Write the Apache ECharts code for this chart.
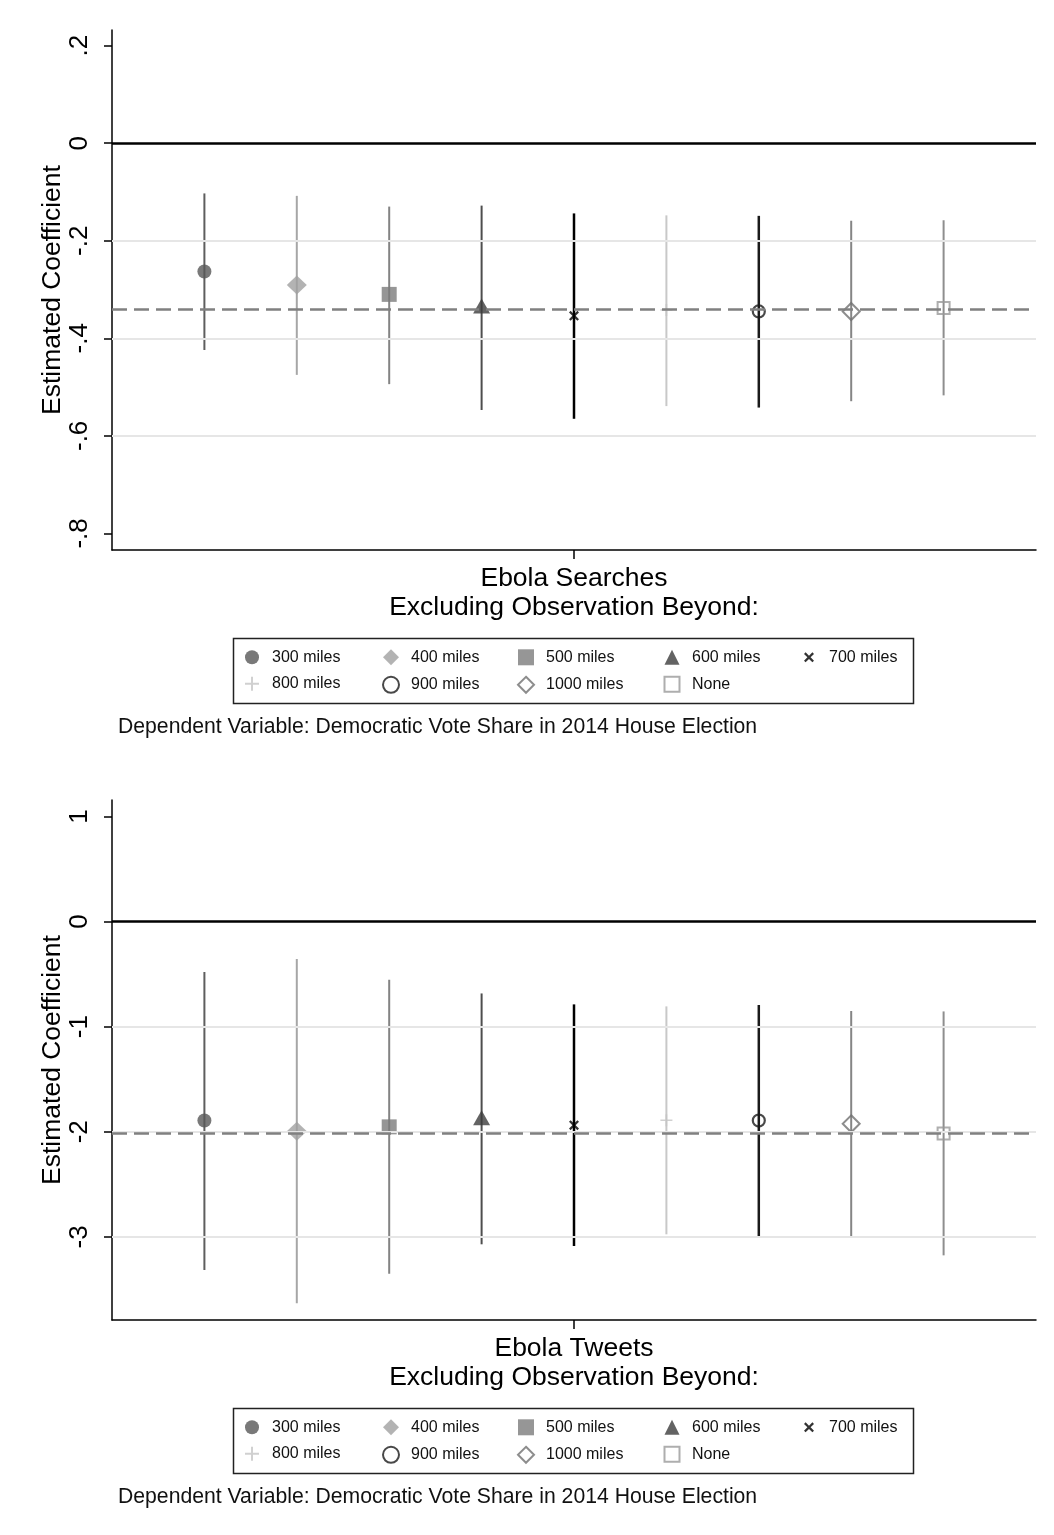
<!DOCTYPE html>
<html><head><meta charset="utf-8">
<script src="https://cdn.jsdelivr.net/npm/echarts@6/dist/echarts.min.js"></script>
<style>html,body{margin:0;padding:0;background:#fff}#c{width:1054px;height:1535px}</style>
</head><body><div id="c"></div>
<script>
// ---------- data ----------
const categories = ['300 miles','400 miles','500 miles','600 miles','700 miles','800 miles','900 miles','1000 miles','None'];
const searchesCoef = [-0.263, -0.291, -0.310, -0.334, -0.354, -0.342, -0.345, -0.345, -0.338];
const searchesLo   = [-0.424, -0.475, -0.494, -0.547, -0.565, -0.539, -0.542, -0.529, -0.517];
const searchesHi   = [-0.103, -0.108, -0.130, -0.128, -0.144, -0.148, -0.149, -0.159, -0.158];
const searchesRef  = -0.337;
const tweetsCoef = [-1.893, -1.994, -1.953, -1.866, -1.937, -1.890, -1.893, -1.924, -2.016];
const tweetsLo   = [-3.314, -3.630, -3.350, -3.070, -3.086, -2.975, -3.000, -3.000, -3.175];
const tweetsHi   = [-0.480, -0.357, -0.554, -0.684, -0.788, -0.807, -0.794, -0.851, -0.855];
const tweetsRef  = -2.010;
const searchesTicks = [0.2, 0, -0.2, -0.4, -0.6, -0.8];
const searchesGridVals = [-0.2, -0.4, -0.6];
const tweetsTicks = [1, 0, -1, -2, -3];
const tweetsGridVals = [-1, -2, -3];
const xTitleLine2 = 'Excluding Observation Beyond:';
const noteText = 'Dependent Variable: Democratic Vote Share in 2014 House Election';
const yTitle = 'Estimated Coefficient';

// ---------- styles ----------
const FONT = '"Liberation Sans", Arial, Helvetica, sans-serif';
const X_PATH = 'path://M0,1.6L1.6,0L5,3.4L8.4,0L10,1.6L6.6,5L10,8.4L8.4,10L5,6.6L1.6,10L0,8.4L3.4,5Z';
const PLUS_PATH = 'path://M4.3,0H5.7V4.3H10V5.7H5.7V10H4.3V5.7H0V4.3H4.3Z';
const mk = [
  {symbol:'circle',   size:14,      fill:'#575757', line:'#5e5e5e', lw:2},
  {symbol:'diamond',  size:[20,19], fill:'#a0a0a0', line:'#a6a6a6', lw:2},
  {symbol:'rect',     size:15,      fill:'#7c7c7c', line:'#838383', lw:2},
  {symbol:'triangle', size:[17,15], fill:'#3c3c3c', line:'#4e4e4e', lw:2},
  {symbol:X_PATH,     size:10,      fill:'#000000', line:'#000000', lw:2.5},
  {symbol:PLUS_PATH,  size:12,      fill:'#c4c4c4', line:'#c8c8c8', lw:2},
  {symbol:'circle',   size:12, hollow:true, stroke:'#1a1a1a', bw:2.2, line:'#1a1a1a', lw:2.5},
  {symbol:'diamond',  size:17, hollow:true, stroke:'#707070', bw:2,   line:'#858585', lw:2},
  {symbol:'rect',     size:12, hollow:true, stroke:'#9a9a9a', bw:2,   line:'#8e8e8e', lw:2}
];
const legendCols = [
  {items:[0,5], cx:252, ih:14},
  {items:[1,6], cx:390, ih:16},
  {items:[2,7], cx:525, ih:16},
  {items:[3,8], cx:671, ih:15},
  {items:[4],   cx:809, ih:10}
];
const panels = [
  {title:'Ebola Searches', coef:searchesCoef, lo:searchesLo, hi:searchesHi, ref:searchesRef,
   ticks:searchesTicks, gridVals:searchesGridVals, min:-0.834, max:0.232, off:0},
  {title:'Ebola Tweets', coef:tweetsCoef, lo:tweetsLo, hi:tweetsHi, ref:tweetsRef,
   ticks:tweetsTicks, gridVals:tweetsGridVals, min:-3.79, max:1.156, off:770}
];
function fmt(v){
  const r = Math.round(v*10)/10;
  return String(r).replace(/^(-?)0\./, '$1.');
}

const grid = [], xAxis = [], yAxis = [], series = [], legend = [], title = [], graphic = [];
const axisLine = {show:true, onZero:false, lineStyle:{color:'#000', width:1.5}};
panels.forEach((p, k) => {
  grid.push({left:112, right:18, top:30 + p.off, height:520, containLabel:false, outerBoundsMode:'none'});
  xAxis.push({
    gridIndex:k, type:'value', min:0, max:10,
    axisLine:axisLine,
    axisTick:{show:true, customValues:[5], length:9, lineStyle:{color:'#000', width:1.5}},
    axisLabel:{show:false}, splitLine:{show:false},
    name: p.title + '\n' + xTitleLine2, nameLocation:'middle', nameGap:14, nameMoveOverlap:false,
    nameTextStyle:{fontSize:26.5, lineHeight:29, color:'#000', fontFamily:FONT, verticalAlign:'top'}
  });
  yAxis.push({
    gridIndex:k, type:'value', min:p.min, max:p.max,
    axisLine:axisLine,
    axisTick:{show:true, customValues:p.ticks, length:8, lineStyle:{color:'#000', width:1.5}},
    axisLabel:{customValues:p.ticks, rotate:90, margin:19, fontSize:26, color:'#000', fontFamily:FONT, formatter:fmt},
    splitLine:{show:false},
    name:yTitle, nameLocation:'middle', nameRotate:90, nameGap:46, nameMoveOverlap:false,
    nameTextStyle:{fontSize:26.5, color:'#000', fontFamily:FONT}
  });
  // gridlines
  series.push({type:'line', xAxisIndex:k, yAxisIndex:k, data:[], silent:true, z:1,
    markLine:{silent:true, symbol:'none', label:{show:false}, animation:false,
      lineStyle:{color:'#e6e6e6', width:2, type:'solid'},
      data:p.gridVals.map(v => ({yAxis:v}))}});
  // zero line and reference (full-sample) line
  series.push({type:'line', xAxisIndex:k, yAxisIndex:k, data:[], silent:true, z:2,
    markLine:{silent:true, symbol:'none', label:{show:false}, animation:false,
      data:[
        {yAxis:0, lineStyle:{color:'#000', width:2.5, type:'solid'}},
        {yAxis:p.ref, lineStyle:{color:'#808080', width:2.5, type:[15,7]}}
      ]}});
  // confidence intervals
  series.push({type:'custom', xAxisIndex:k, yAxisIndex:k, z:3, silent:true,
    encode:{x:0, y:[1,2]},
    data:categories.map((c,i) => [i+1, p.lo[i], p.hi[i], i]),
    renderItem:(params, api) => {
      const x = api.value(0), i = api.value(3);
      const a = api.coord([x, api.value(1)]), b = api.coord([x, api.value(2)]);
      return {type:'line', shape:{x1:a[0], y1:a[1], x2:b[0], y2:b[1]},
        style:{stroke:mk[i].line, lineWidth:mk[i].lw}};
    }});
  // point estimates
  categories.forEach((c, i) => {
    const s = mk[i];
    series.push({type:'scatter', name:c, xAxisIndex:k, yAxisIndex:k, z:4, silent:true,
      symbol:s.symbol, symbolSize:s.size, symbolKeepAspect:false,
      itemStyle: s.hollow ? {color:'rgba(255,255,255,0)', borderColor:s.stroke, borderWidth:s.bw}
                          : {color:s.fill, borderWidth:0},
      data:[[i+1, p.coef[i]]]});
  });
  // legend (column-wise, Stata style)
  legendCols.forEach(col => {
    const h = Math.max(col.ih, 16);
    legend.push({orient:'vertical', left:col.cx - col.ih/2, top:657.3 + p.off - h/2,
      itemWidth:col.ih, itemHeight:col.ih, itemGap:26.5 - h, padding:0, selectedMode:false,
      textStyle:{fontSize:16, color:'#111', fontFamily:FONT, padding:[0,0,0,15 - col.ih/2]},
      data:col.items.map(i => categories[i])});
  });
  graphic.push({type:'rect', silent:true, shape:{x:233.5, y:638.5 + p.off, width:680, height:65},
    style:{fill:'none', stroke:'#222', lineWidth:1.5}});
  title.push({text:noteText, left:118, top:716.5 + p.off, padding:0,
    textStyle:{fontSize:21.2, fontWeight:'normal', color:'#111', fontFamily:FONT}});
});

const chart = echarts.init(document.getElementById('c'), null, {renderer:'canvas'});
chart.setOption({animation:false, backgroundColor:'#fff', grid, xAxis, yAxis, series, legend, title, graphic});
</script></body></html>
